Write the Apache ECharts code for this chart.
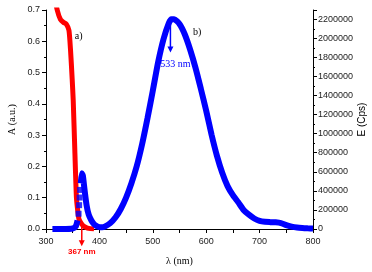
<!DOCTYPE html>
<html>
<head>
<meta charset="utf-8">
<script src="https://cdn.jsdelivr.net/npm/echarts@6/dist/echarts.min.js"></script>
<style>
html, body { margin: 0; padding: 0; background: #fff; }
#main { width: 372px; height: 272px; }
</style>
</head>
<body>
<div id="main"></div>
<script>
// absorption (left axis)
var absWl = [314, 321, 327, 333, 338, 343, 346, 349, 351, 354, 357, 360, 362, 366, 370, 375, 380, 390];
var absVal = [0.76, 0.70, 0.67, 0.66, 0.655, 0.635, 0.57, 0.48, 0.41, 0.25, 0.10, 0.05, 0.03, 0.018, 0.01, 0.005, 0.002, 0];

// emission (right axis)
var emWl = [312, 330, 350, 356, 359, '-', 365, 367, 369, 372, 376, 380, 385, 390, 395, 400, 405, 410, 420, 430, 440, 450, 460, 470, 480, 490, 500, 510, 520, 530, 535, 540, 550, 560, 570, 580, 590, 600, 610, 620, 630, 640, 650, 660, 670, 680, 690, 700, 710, 720, 730, 740, 750, 760, 770, 780, 790, 800];
var emVal = [0, 0, 5000, 30000, 90000, '-', 480000, 585000, 560000, 420000, 250000, 150000, 90000, 50000, 30000, 20000, 18000, 25000, 60000, 120000, 210000, 330000, 480000, 660000, 890000, 1160000, 1450000, 1750000, 1990000, 2160000, 2200000, 2200000, 2150000, 2040000, 1880000, 1690000, 1470000, 1240000, 990000, 770000, 590000, 450000, 355000, 280000, 200000, 150000, 110000, 85000, 75000, 72000, 70000, 62000, 40000, 25000, 15000, 10000, 7000, 5000];
// steep rise, drawn as separate squares
var riseWl = [361, 362, 363, 364];
var riseVal = [160000, 250000, 330000, 410000];

var xTicks = [300, 400, 500, 600, 700, 800];
var absLabel = '367 nm', emLabel = '533 nm';
var absPeak = 367, emPeak = 533;

var chart = echarts.init(document.getElementById('main'));

function pairs(xs, ys) {
	var out = [];
	for (var i = 0; i < xs.length; i++) {
		if (xs[i] === '-') out.push(['-', '-']);
		else out.push([xs[i], ys[i]]);
	}
	return out;
}

var lbl = { color: '#222', fontSize: 9, fontFamily: 'Liberation Sans' };
var tick = { lineStyle: { color: '#000' }, length: 4 };
var minor = { show: true, splitNumber: 2, length: 2, lineStyle: { color: '#000' } };
var axLine = { lineStyle: { color: '#000', width: 1 } };

chart.setOption({
	animation: false,
	grid: { left: 46, right: 59, top: 10, bottom: 43, outerBoundsMode: 'none', containLabel: false },
	xAxis: [{
		type: 'value', min: xTicks[0], max: xTicks[xTicks.length - 1], interval: 100,
		position: 'bottom',
		name: 'λ (nm)', nameLocation: 'middle', nameGap: 27, nameMoveOverlap: false,
		nameTextStyle: { fontFamily: 'Liberation Serif', fontSize: 10, color: '#000' },
		axisLine: axLine, axisTick: tick, minorTick: minor,
		axisLabel: lbl, splitLine: { show: false }
	}, {
		type: 'value', min: 300, max: 800, interval: 50,
		position: 'top',
		axisLine: axLine, axisTick: { inside: true, length: 4, lineStyle: { color: '#000' } },
		axisLabel: { show: false }, splitLine: { show: false }
	}],
	yAxis: [{
		type: 'value', min: 0, max: 0.7, interval: 0.1,
		position: 'left',
		name: 'A (a.u.)', nameLocation: 'middle', nameGap: 29, nameMoveOverlap: false,
		nameTextStyle: { fontFamily: 'Liberation Serif', fontSize: 10, color: '#000' },
		axisLine: { show: true, lineStyle: { color: '#000' } }, axisTick: tick, minorTick: minor,
		axisLabel: { color: '#222', fontSize: 9, fontFamily: 'Liberation Sans', margin: 6, formatter: function (v) { return v.toFixed(1); } },
		splitLine: { show: false }
	}, {
		type: 'value', min: 0, max: 2297000, interval: 200000,
		position: 'right',
		name: 'E (Cps)', nameLocation: 'middle', nameGap: 44, nameRotate: 90, nameMoveOverlap: false,
		nameTextStyle: { fontFamily: 'Liberation Sans', fontSize: 10, color: '#000' },
		axisLine: { show: true, lineStyle: { color: '#000' } }, axisTick: tick, minorTick: minor,
		axisLabel: { color: '#222', fontSize: 9, fontFamily: 'Liberation Sans', margin: 5, showMaxLabel: false, formatter: function (v) { return String(v); } },
		splitLine: { show: false }
	}],
	series: [{
		type: 'line', xAxisIndex: 0, yAxisIndex: 0,
		data: pairs(absWl, absVal),
		smooth: 0.2, showSymbol: false,
		lineStyle: { color: '#ff0000', width: 5 }
	}, {
		type: 'line', xAxisIndex: 0, yAxisIndex: 1,
		data: pairs(emWl, emVal),
		smooth: 0.2, showSymbol: false, connectNulls: false,
		lineStyle: { color: '#0000ff', width: 6 }
	}, {
		type: 'scatter', xAxisIndex: 0, yAxisIndex: 1,
		data: pairs(riseWl, riseVal),
		symbol: 'rect', symbolSize: 6, z: 5,
		itemStyle: { color: '#0000ff' }
	}]
});

// annotations placed through the axes
var pA = function (x, y) { return chart.convertToPixel({ xAxisIndex: 0, yAxisIndex: 0 }, [x, y]); };
var pE = function (x, y) { return chart.convertToPixel({ xAxisIndex: 0, yAxisIndex: 1 }, [x, y]); };

var r0 = pA(absPeak, 0.02), r1 = pA(absPeak, -0.055), rt = pA(absPeak, -0.072);
var b0 = pE(emPeak, 2200000), b1 = pE(emPeak, 1850000), bt = pE(emPeak, 1730000);
var ta = pA(361, 0.615), tb = pE(583, 2060000);

function arrow(p0, p1, color) {
	return [{
		type: 'line', z: 100, shape: { x1: p0[0], y1: p0[1], x2: p1[0], y2: p1[1] - 5 },
		style: { stroke: color, lineWidth: 1.5 }
	}, {
		type: 'polygon', z: 100, shape: { points: [[p1[0] - 3, p1[1] - 6], [p1[0] + 3, p1[1] - 6], [p1[0], p1[1]]] },
		style: { fill: color }
	}];
}

chart.setOption({
	graphic: arrow(r0, r1, '#ff0000').concat(arrow(b0, b1, '#0000ff')).concat([{
		type: 'text', z: 100, x: rt[0], y: rt[1],
		style: { text: absLabel, fill: '#ff0000', font: 'bold 8px Liberation Sans', textAlign: 'center', textVerticalAlign: 'middle' }
	}, {
		type: 'text', z: 100, x: bt[0] + 5, y: bt[1],
		style: { text: emLabel, fill: '#0000ff', font: '10px Liberation Serif', textAlign: 'center', textVerticalAlign: 'middle' }
	}, {
		type: 'text', z: 100, x: ta[0], y: ta[1],
		style: { text: 'a)', fill: '#000', font: '10px Liberation Serif', textAlign: 'center', textVerticalAlign: 'middle' }
	}, {
		type: 'text', z: 100, x: tb[0], y: tb[1],
		style: { text: 'b)', fill: '#000', font: '10px Liberation Serif', textAlign: 'center', textVerticalAlign: 'middle' }
	}])
});
</script>
</body>
</html>
